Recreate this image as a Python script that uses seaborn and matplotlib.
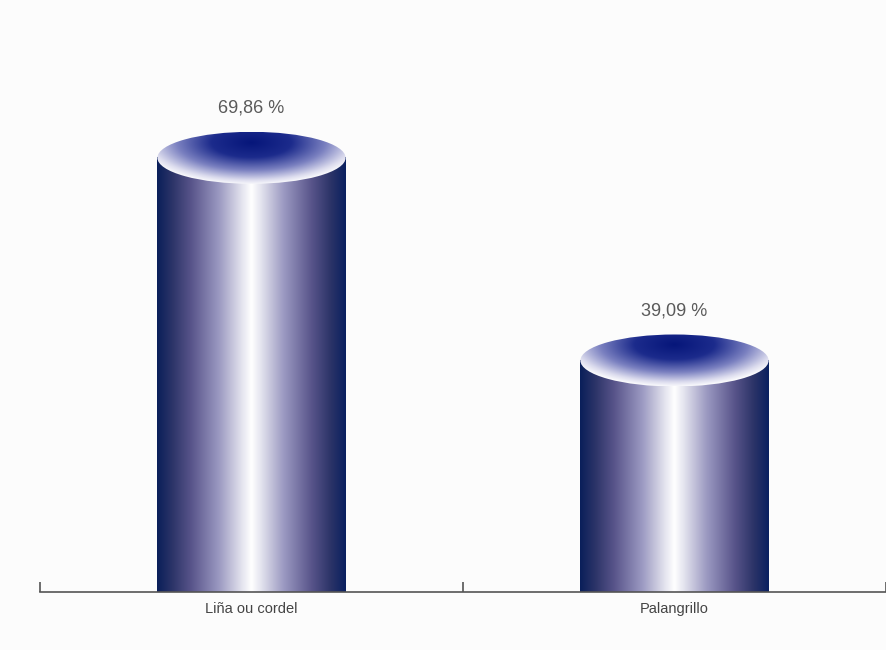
import numpy as np
import matplotlib
matplotlib.use("Agg")
import matplotlib.pyplot as plt
from matplotlib.colors import LinearSegmentedColormap
from matplotlib.patches import Ellipse
import seaborn as sns
import pandas as pd

categories = ["Liña ou cordel", "Palangrillo"]
values = [69.86, 39.09]
value_labels = ["69,86 %", "39,09 %"]

sns.set_theme(style="white")
plt.rcParams['font.family'] = ['Liberation Sans', 'DejaVu Sans']

BG = '#fcfcfc'
fig = plt.figure(figsize=(8.86, 6.5), dpi=100, facecolor=BG)
ax = fig.add_axes([40/886, 58/650, 846/886, 527/650])
ax.set_facecolor(BG)

df = pd.DataFrame({"cat": categories, "val": values})
sns.barplot(data=df, x="cat", y="val", width=0.445, ax=ax, color='#1a2a6c')

YMAX = 80
px_per_unit = 527 / YMAX
e = 26 / px_per_unit  # ellipse semi-height in data units

body_cmap = LinearSegmentedColormap.from_list("body", [
    (0.0, '#0a1f5a'), (0.08, '#2c3468'), (0.18, '#58548a'), (0.33, '#9c9ac2'),
    (0.45, '#e4e4ef'), (0.5, '#ffffff'), (0.55, '#e4e4ef'), (0.67, '#9c9ac2'),
    (0.82, '#58548a'), (0.92, '#2c3468'), (1.0, '#0a2060')])
top_cmap = LinearSegmentedColormap.from_list("top", [
    (0.0, '#06167a'), (0.35, '#1c2b8c'), (0.65, '#7a80c0'), (0.88, '#dcdcee'), (1.0, '#ffffff')])

bars = [p for p in ax.patches]
for p, lab in zip(bars, value_labels):
    x0, w, h = p.get_x(), p.get_width(), p.get_height()
    p.set_visible(False)
    grad = np.linspace(0, 1, 512)[None, :]
    ax.imshow(grad, cmap=body_cmap, extent=[x0, x0 + w, 0, h - e],
              aspect='auto', origin='lower', zorder=2, interpolation='bicubic')
    u = np.linspace(-1, 1, 400)
    t = np.linspace(-1, 1, 200)
    U, T = np.meshgrid(u, t)
    d = np.sqrt((U / 1.1) ** 2 + ((T - 0.6) / 1.5) ** 2) / 1.1
    d = np.clip(d, 0, 1)
    ell = Ellipse((x0 + w / 2, h - e), w, 2 * e, transform=ax.transData,
                  facecolor='none', edgecolor='none', zorder=3)
    ax.add_patch(ell)
    im = ax.imshow(d, cmap=top_cmap, vmin=0, vmax=1,
                   extent=[x0, x0 + w, h - 2 * e, h], aspect='auto',
                   origin='lower', zorder=3, interpolation='bicubic')
    im.set_clip_path(ell)
    ax.annotate(lab, (x0 + w / 2, h), xytext=(0, 11), textcoords='offset points',
                ha='center', va='bottom', fontsize=13, color='#5a5a5a')

ax.set_xlim(-0.5, 1.5)
ax.set_ylim(0, YMAX)
ax.set_xlabel('')
ax.set_ylabel('')
ax.set_yticks([])
for s in ['left', 'top', 'right']:
    ax.spines[s].set_visible(False)
ax.spines['bottom'].set_color('#555555')
ax.spines['bottom'].set_linewidth(1.2)
ax.set_xticks([0, 1])
ax.set_xticklabels(categories)
ax.tick_params(axis='x', which='major', length=0, pad=7, labelsize=10.5, labelcolor='#444444')
ax.set_xticks([-0.5, 0.5, 1.5], minor=True)
ax.tick_params(axis='x', which='minor', direction='in', length=7.5, width=1.2,
               color='#555555', bottom=True)

fig.savefig('out.png', dpi=100, facecolor=BG)
